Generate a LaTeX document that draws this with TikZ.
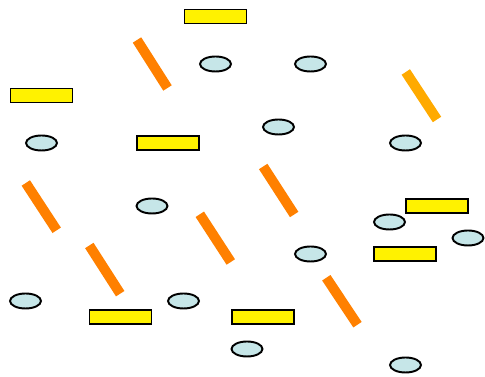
\documentclass[tikz,border=0pt]{standalone}
\usepackage{tikz}
\usetikzlibrary{shapes.geometric}
\definecolor{rodorange}{RGB}{255,128,0}
\definecolor{rodamber}{RGB}{255,170,0}
\definecolor{discfill}{RGB}{198,230,232}
\tikzset{
  slab/.style={draw=black,fill=yellow,line width=0.9pt,minimum width=1.24cm,
    minimum height=0.28cm,inner sep=0pt},
  disc/.style={ellipse,draw=black,fill=discfill,line width=1.1pt,minimum width=0.62cm,
    minimum height=0.30cm,inner sep=0pt},
  rod/.style={line width=0.2cm,rodorange,line cap=butt},
}

\begin{document}
\begin{tikzpicture}[x=0.02cm,y=-0.02cm]
  \useasboundingbox (0,0) rectangle (485,377);
  % orange rods
  \foreach \n/\xa/\ya/\xb/\yb in {1/137/40/167.5/88, 3/25.8/183/56.7/230.3,
      4/89.3/245.5/120.2/293.7, 5/199.8/214.3/230.8/262, 6/263.2/166.5/294.2/214.5,
      7/326.3/277.8/357.5/324.7}{
    \coordinate (r\n a) at (\xa,\ya);
    \coordinate (r\n b) at (\xb,\yb);
    \draw[rod] (r\n a) -- (r\n b);
  }
  \coordinate (r2a) at (405.8,72);
  \coordinate (r2b) at (437,119.5);
  \draw[rod,rodamber] (r2a) -- (r2b);
  % yellow slabs
  \foreach \n/\x/\y in {1/215.5/16.5, 2/41.5/95.5, 3/168/143, 4/437/206,
      5/405/254, 6/120.5/317, 7/263/317}{
    \node[slab] (s\n) at (\x,\y) {};
  }
  % blue discs
  \foreach \n/\x/\y in {1/215.5/64, 2/310.5/64, 3/41.5/143, 4/278.5/127,
      5/405.5/143, 6/152/206, 7/389.5/222, 8/468/238, 9/310.5/254,
      10/25.5/301, 11/183.5/301, 12/247/349, 13/405.5/365}{
    \node[disc] (d\n) at (\x,\y) {};
  }
\end{tikzpicture}
\end{document}
